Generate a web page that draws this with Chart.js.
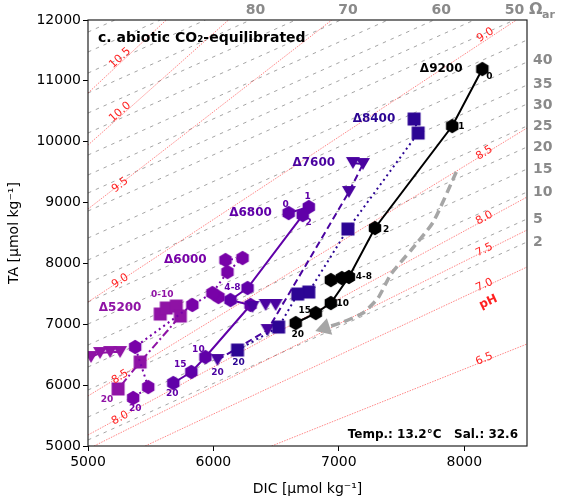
<!DOCTYPE html>
<html>
<head>
<meta charset="utf-8">
<script src="https://cdn.jsdelivr.net/npm/chart.js@4.4.1/dist/chart.umd.min.js"></script>
<style>
  body { margin: 0; background: #fff; }
  #grafico { display: block; }
</style>
</head>
<body>
<canvas id="grafico" width="565" height="498"></canvas>
<script>
// ---- valores (DIC, TA em µmol/kg) ----
const dicTicks = [5000, 6000, 7000, 8000];
const taTicks = [5000, 6000, 7000, 8000, 9000, 10000, 11000, 12000];

// Δ9200 (hexágonos, linha contínua)
const d9200Dic = [8144, 7904, 7288, 7080, 6936, 6816, 6656];
const d9200Ta = [11194, 10258, 8582, 7777, 7349, 7185, 7021];
const d9200ExtraDic = [6936, 7024];
const d9200ExtraTa = [7727, 7760];

// Δ8400 (quadrados, pontilhado)
const d8400Dic = [7600, 7632, 7072, 6760, 6672, 6520, 6192];
const d8400Ta = [10373, 10143, 8565, 7530, 7497, 6955, 6577];

// Δ7600 (triângulos, tracejado)
const d7600Dic = [7112, 7192, 7080, 6432, 6032];
const d7600Ta = [9650, 9633, 9173, 6906, 6413];
const d7600ExtraDic = [6496, 6416, 6312];
const d7600ExtraTa = [7317, 7317, 7284];

// Δ6800 (hexágonos, contínua)
const d6800Dic = [6600, 6760, 6712, 6272, 6136, 6296, 5936, 5824, 5680];
const d6800Ta = [8828, 8927, 8795, 7596, 7399, 7317, 6462, 6216, 6035];

// Δ6000 (hexágonos, pontilhado)
const d6000Dic = [6096, 6232, 6112, 5992, 5832, 5376, 5480, 5360];
const d6000Ta = [8056, 8089, 7859, 7514, 7317, 6627, 5969, 5789];
const d6000ExtraDic = [6040];
const d6000ExtraTa = [7448];

// Δ5200 (quadrados traço-ponto e triângulos)
const d5200QDic = [5576, 5624, 5704, 5736, 5416, 5240];
const d5200QTa = [7169, 7267, 7300, 7136, 6380, 5937];
const d5200TDic = [5256, 5176, 5096, 5024, 4952];
const d5200TTa = [6544, 6544, 6528, 6462, 6446];

// seta cinza (tendência)
const setaDic = [7936, 7752, 7576, 7416, 7312, 7192, 7032, 6888];
const setaTa = [9502, 8680, 8220, 7826, 7432, 7185, 7037, 6939];

// isolinhas de Ω aragonita
const omegaNiveis = [2, 5, 10, 15, 20, 25, 30, 35, 40, 45, 50, 55, 60, 65, 70, 75, 80, 85, 90, 95];
const omegaDicIni = [5000, 5000, 5000, 5000, 5000, 5000, 5000, 5000, 5000, 5000, 5000, 5000, 5000, 5000, 5000, 5000, 5000, 5000, 5000, 5000];
const omegaTaIni = [5099, 5476, 5920, 6298, 6659, 7004, 7366, 7678, 8056, 8417, 8861, 9157, 9453, 9781, 10143, 10471, 10800, 11128, 11474, 11802];
const omegaDicFim = [8500, 8500, 8500, 8500, 8500, 8500, 8500, 8500, 8500, 8500, 8400, 8080, 7760, 7392, 7016, 6656, 6296, 5936, 5576, 5216];
const omegaTaFim = [8352, 8730, 9173, 9551, 9913, 10258, 10619, 10931, 11309, 11671, 12000, 12000, 12000, 12000, 12000, 12000, 12000, 12000, 12000, 12000];
const omegaRotDireita = ['40', '35', '30', '25', '20', '15', '10', '5', '2'];
const omegaRotDireitaTa = [11342, 10948, 10603, 10258, 9913, 9551, 9173, 8730, 8352];
const omegaRotTopo = ['80', '70', '60', '50'];
const omegaRotTopoDic = [6336, 7072, 7816, 8400];

// isolinhas de pH
const phNiveis = ['10.5', '10.0', '9.5', '9.0', '8.5', '8.0', '7.5', '7.0', '6.5'];
const phDicIni = [5000, 5000, 5000, 5000, 5000, 5000, 5048, 5456, 6464];
const phTaIni = [10800, 9945, 8894, 7366, 5822, 5181, 5000, 5000, 5000];
const phDicFim = [5624, 6120, 6944, 8416, 8500, 8500, 8500, 8500, 8500];
const phTaFim = [12000, 12000, 12000, 12000, 10225, 9091, 8549, 7941, 6676];
const phRotTexto = ['10.5', '10.0', '9.5', '9.0', '9.0', '8.5', '8.5', '8.0', '8.0', '7.5', '7.0', '6.5'];
const phRotLinha = [0, 1, 2, 3, 3, 4, 4, 5, 5, 6, 7, 8];
const phRotDic = [5256, 5256, 5256, 5256, 8168, 5256, 8160, 5256, 8160, 8160, 8160, 8160];
const phRotTa = [11375, 10488, 9288, 7711, 11753, 6134, 9814, 5460, 8746, 8220, 7645, 6429];

// rótulos dos grupos e dos dias
const grupos = ['Δ5200', 'Δ6000', 'Δ6800', 'Δ7600', 'Δ8400', 'Δ9200'];
const gruposDic = [5256, 5776, 6296, 6800, 7280, 7816];
const gruposTa = [7267, 8056, 8828, 9650, 10373, 11194];
const diasTexto = ['0', '1', '2', '4-8', '10', '15', '20', '0', '1', '2', '4-8', '10', '15', '20', '20', '20', '0-10', '20', '20'];
const diasGrupo = [5, 5, 5, 5, 5, 5, 5, 2, 2, 2, 2, 2, 2, 2, 3, 4, 0, 0, 1];
const diasDic = [8200, 7976, 7376, 7200, 7032, 6728, 6672, 6576, 6752, 6760, 6152, 5880, 5736, 5672, 6032, 6200, 5592, 5152, 5376];
const diasTa = [11063, 10241, 8549, 7777, 7333, 7218, 6824, 8960, 9091, 8664, 7596, 6577, 6331, 5854, 6199, 6364, 7481, 5756, 5608];

// ---- estilos ----
const cores = ['#8f13a5', '#7802a8', '#6000a8', '#4a03a0', '#2c0594', '#000000'];
const fonte = 'DejaVu Sans';

function pontos(dic, ta) {
  return dic.map((x, i) => ({ x: x, y: ta[i] }));
}

// desenha hexágono / quadrado / triângulo num canvas pequeno para usar como pointStyle
function marcador(forma, cor) {
  const c = document.createElement('canvas');
  c.width = 16;
  c.height = 16;
  const g = c.getContext('2d');
  g.fillStyle = cor;
  g.beginPath();
  if (forma === 'hex') {
    for (let i = 0; i < 6; i++) {
      const a = Math.PI / 180 * (60 * i - 90);
      const px = 8 + 7.2 * Math.cos(a);
      const py = 8 + 7.2 * Math.sin(a);
      if (i === 0) g.moveTo(px, py); else g.lineTo(px, py);
    }
  } else if (forma === 'quad') {
    g.rect(1.5, 1.5, 13, 13);
  } else {
    g.moveTo(1, 2);
    g.lineTo(15, 2);
    g.lineTo(8, 14);
  }
  g.closePath();
  g.fill();
  return c;
}

const datasets = [];

function addSerie(dic, ta, grupo, forma, tracejado, comLinha) {
  datasets.push({
    data: pontos(dic, ta),
    showLine: comLinha,
    borderColor: cores[grupo],
    borderWidth: 2,
    borderDash: tracejado,
    pointStyle: marcador(forma, cores[grupo]),
    pointRadius: 7,
    clip: 0,
    order: 0
  });
}

const continua = [];
const tracejada = [7, 4];
const pontilhada = [2, 3.5];
const tracoPonto = [8, 3, 2, 3];

addSerie(d9200Dic, d9200Ta, 5, 'hex', continua, true);
addSerie(d9200ExtraDic, d9200ExtraTa, 5, 'hex', continua, false);
addSerie(d8400Dic, d8400Ta, 4, 'quad', pontilhada, true);
addSerie(d7600Dic, d7600Ta, 3, 'tri', tracejada, true);
addSerie(d7600ExtraDic, d7600ExtraTa, 3, 'tri', tracejada, false);
addSerie(d6800Dic, d6800Ta, 2, 'hex', continua, true);
addSerie(d6000Dic, d6000Ta, 1, 'hex', pontilhada, true);
addSerie(d6000ExtraDic, d6000ExtraTa, 1, 'hex', pontilhada, false);
addSerie(d5200QDic, d5200QTa, 0, 'quad', tracoPonto, true);
addSerie(d5200TDic, d5200TTa, 0, 'tri', tracejada, true);

// seta cinza tracejada
datasets.push({
  data: pontos(setaDic, setaTa),
  showLine: true,
  borderColor: '#a6a6a6',
  borderWidth: 3.5,
  borderDash: [9, 5],
  tension: 0.2,
  pointStyle: 'triangle',
  pointRotation: 252,
  pointRadius: c => (c.dataIndex === setaDic.length - 1 ? 10 : 0),
  pointBackgroundColor: '#a6a6a6',
  pointBorderColor: '#a6a6a6',
  pointBorderWidth: 0,
  clip: 0,
  order: 5
});

// isolinhas Ω (cinza tracejado)
omegaNiveis.forEach((o, i) => {
  datasets.push({
    data: [{ x: omegaDicIni[i], y: omegaTaIni[i] }, { x: omegaDicFim[i], y: omegaTaFim[i] }],
    showLine: true,
    borderColor: '#9a9a9a',
    borderWidth: 0.9,
    borderDash: [3.5, 5],
    pointRadius: 0,
    clip: 0,
    order: 20
  });
});

// isolinhas pH (vermelho pontilhado)
phNiveis.forEach((p, i) => {
  datasets.push({
    data: [{ x: phDicIni[i], y: phTaIni[i] }, { x: phDicFim[i], y: phTaFim[i] }],
    showLine: true,
    borderColor: 'rgba(255, 40, 40, 0.7)',
    borderWidth: 0.8,
    borderDash: [1.5, 1.2],
    pointRadius: 0,
    clip: 0,
    order: 19
  });
});

// textos sobre o gráfico
const rotulos = {
  id: 'rotulos',
  afterDatasetsDraw(chart) {
    const { ctx, chartArea: area } = chart;
    const px = v => chart.scales.x.getPixelForValue(v);
    const py = v => chart.scales.y.getPixelForValue(v);

    ctx.save();
    ctx.textAlign = 'center';
    ctx.textBaseline = 'middle';

    // pH, girado ao longo da linha
    const anguloPh = k => Math.atan2(py(phTaFim[k]) - py(phTaIni[k]), px(phDicFim[k]) - px(phDicIni[k]));
    ctx.fillStyle = '#ff2020';
    ctx.font = '11px "' + fonte + '"';
    phRotTexto.forEach((t, i) => {
      ctx.save();
      ctx.translate(px(phRotDic[i]), py(phRotTa[i]));
      ctx.rotate(anguloPh(phRotLinha[i]));
      ctx.fillText(t, 0, 0);
      ctx.restore();
    });
    ctx.save();
    ctx.translate(px(8192), py(7366));
    ctx.rotate(anguloPh(7));
    ctx.font = 'bold 12px "' + fonte + '"';
    ctx.fillText('pH', 0, 0);
    ctx.restore();

    // grupos Δ
    ctx.font = 'bold 12px "' + fonte + '"';
    grupos.forEach((g, i) => {
      ctx.fillStyle = cores[i];
      ctx.fillText(g, px(gruposDic[i]), py(gruposTa[i]));
    });

    // dias
    ctx.font = 'bold 9px "' + fonte + '"';
    diasTexto.forEach((t, i) => {
      ctx.fillStyle = cores[diasGrupo[i]];
      ctx.fillText(t, px(diasDic[i]), py(diasTa[i]));
    });

    // Ω à direita e no topo
    ctx.fillStyle = '#8a8a8a';
    ctx.font = 'bold 14px "' + fonte + '"';
    ctx.textAlign = 'left';
    omegaRotDireita.forEach((t, i) => {
      ctx.fillText(t, area.right + 6, py(omegaRotDireitaTa[i]));
    });
    ctx.textAlign = 'center';
    omegaRotTopo.forEach((t, i) => {
      ctx.fillText(t, px(omegaRotTopoDic[i]), area.top - 10);
    });
    ctx.textAlign = 'left';
    ctx.font = 'bold 16px "' + fonte + '"';
    ctx.fillText('Ω', area.right + 2, area.top - 10);
    ctx.font = 'bold 11px "' + fonte + '"';
    ctx.fillText('ar', area.right + 15, area.top - 5);

    // título e condições
    ctx.fillStyle = '#000';
    ctx.font = 'bold 14px "' + fonte + '"';
    ctx.fillText('c. abiotic CO₂-equilibrated', area.left + 10, area.top + 18);
    ctx.textAlign = 'right';
    ctx.font = 'bold 12px "' + fonte + '"';
    ctx.fillText('Temp.: 13.2°C   Sal.: 32.6', area.right - 9, area.bottom - 11);

    ctx.restore();
  },
  afterDraw(chart) {
    const { ctx, chartArea: a } = chart;
    ctx.save();
    ctx.strokeStyle = '#222';
    ctx.lineWidth = 1.2;
    ctx.strokeRect(a.left, a.top, a.right - a.left, a.bottom - a.top);
    ctx.restore();
  }
};

const ctx = document.getElementById('grafico');

new Chart(ctx, {
  type: 'scatter',
  data: { datasets: datasets },
  options: {
    responsive: false,
    animation: false,
    events: [],
    layout: { padding: { left: 0, right: 38, top: 20, bottom: 0 } },
    plugins: {
      legend: { display: false },
      tooltip: { enabled: false }
    },
    scales: {
      x: {
        type: 'linear',
        min: 5000,
        max: 8500,
        afterBuildTicks: s => { s.ticks = dicTicks.map(v => ({ value: v })); },
        afterFit: s => { s.height = 52; },
        grid: { drawOnChartArea: false, color: '#000', tickLength: 5 },
        border: { display: false },
        ticks: { color: '#000', font: { family: fonte, size: 14 }, padding: 3, maxRotation: 0, callback: v => String(v) },
        title: { display: true, text: 'DIC [μmol kg⁻¹]', color: '#000', font: { family: fonte, size: 14 }, padding: { top: 3, bottom: 0 } }
      },
      y: {
        type: 'linear',
        min: 5000,
        max: 12000,
        afterBuildTicks: s => { s.ticks = taTicks.map(v => ({ value: v })); },
        afterFit: s => { s.width = 88; },
        grid: { drawOnChartArea: false, color: '#000', tickLength: 5 },
        border: { display: false },
        ticks: { color: '#000', font: { family: fonte, size: 14 }, padding: 2, callback: v => String(v) },
        title: { display: true, text: 'TA [μmol kg⁻¹]', color: '#000', font: { family: fonte, size: 14 }, padding: { top: 6, bottom: 0 } }
      }
    }
  },
  plugins: [rotulos]
});
</script>
</body>
</html>
